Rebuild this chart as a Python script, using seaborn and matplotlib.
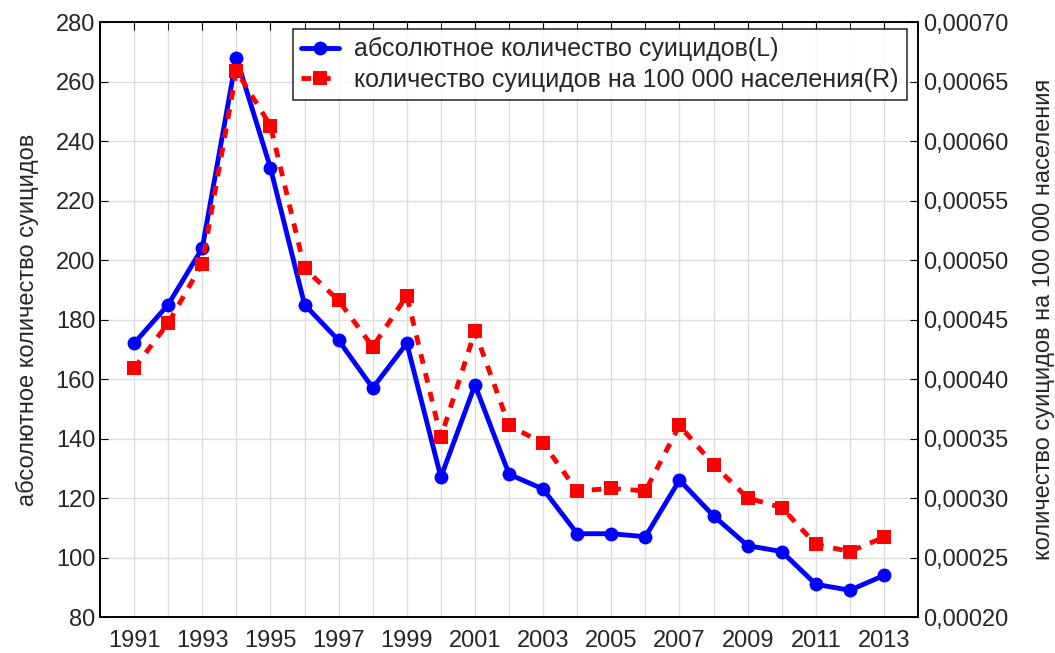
import numpy as np
import pandas as pd
import matplotlib
matplotlib.use("Agg")
import matplotlib.pyplot as plt
import seaborn as sns

years = list(range(1991, 2014))
abs_suicides = [172, 185, 204, 268, 231, 185, 173, 157, 172, 127, 158, 128,
                123, 108, 108, 107, 126, 114, 104, 102, 91, 89, 94]
rate_suicides = [0.000409, 0.000447, 0.000497, 0.000659, 0.000613, 0.000493,
                 0.000466, 0.000427, 0.000470, 0.000351, 0.000440, 0.000361,
                 0.000346, 0.000306, 0.000308, 0.000306, 0.000361, 0.000328,
                 0.000300, 0.000292, 0.000261, 0.000255, 0.000267]

label_l = 'абсолютное количество суицидов(L)'
label_r = 'количество суицидов на 100 000 населения(R)'

df = pd.DataFrame({'year': years, 'abs': abs_suicides, 'rate': rate_suicides})

sns.set_style('white')
plt.rcParams['font.family'] = ['Liberation Sans', 'DejaVu Sans']

fig = plt.figure(figsize=(10.55, 6.53), dpi=100)
ax = fig.add_axes([0.0948, 0.0551, 0.7754, 0.9112])
ax2 = ax.twinx()

sns.lineplot(data=df, x='year', y='abs', ax=ax, color='#0000ff', lw=3.5,
             marker='o', markersize=10, markeredgewidth=0, label=label_l, legend=False)
sns.lineplot(data=df, x='year', y='rate', ax=ax2, color='#ff0000', lw=3.5,
             marker='s', markersize=10, markeredgewidth=0, label=label_r, legend=False)
ax2.lines[0].set_dashes([2, 2])

ax.set_xlim(1990, 2014)
ax.set_ylim(80, 280)
ax2.set_ylim(0.0002, 0.0007)
ax.set_xticks(range(1991, 2014, 2))
ax.set_xticks(range(1990, 2015), minor=True)
ax.set_yticks(range(80, 281, 20))
ax2.set_yticks(np.arange(0.0002, 0.00071, 0.00005))
ax2.set_yticklabels([f'{v:.5f}'.replace('.', ',') for v in np.arange(0.0002, 0.00071, 0.00005)])

ax.grid(True, which='both', axis='x', color='#dddddd', lw=1)
ax.grid(True, which='major', axis='y', color='#dddddd', lw=1)
ax.set_axisbelow(True)

for a in (ax, ax2):
    for s in a.spines.values():
        s.set_color('black')
        s.set_linewidth(1.2)
ax.tick_params(axis='both', which='both', direction='in', labelsize=17, top=True, length=6, color='black')
ax.tick_params(axis='x', which='major', pad=9)
ax2.tick_params(axis='y', direction='in', labelsize=17, length=6, color='black')

ax.set_xlabel('')
ax.set_ylabel('абсолютное количество суицидов', fontsize=17, labelpad=12)
ax2.set_ylabel('количество суицидов на 100 000 населения', fontsize=17, rotation=90, labelpad=18)

h1, l1 = ax.get_legend_handles_labels()
h2, l2 = ax2.get_legend_handles_labels()
leg = ax2.legend(h1 + h2, l1 + l2, loc='upper right', bbox_to_anchor=(1.002, 1.01),
                 fontsize=18, frameon=True, fancybox=False, edgecolor='black',
                 handlelength=1.5, handletextpad=0.6, borderpad=0.35, labelspacing=0.25)
leg.get_frame().set_linewidth(1.2)

fig.savefig('out.png', dpi=100)
